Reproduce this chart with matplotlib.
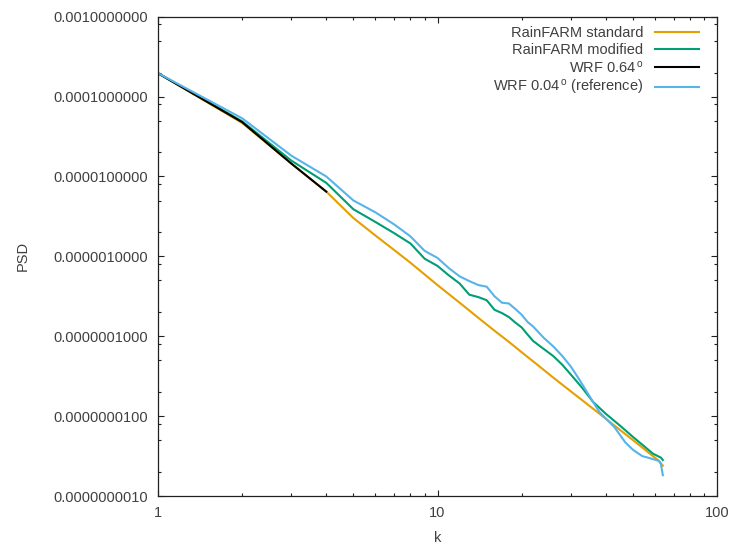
import matplotlib
matplotlib.use("Agg")
import matplotlib.pyplot as plt
from matplotlib.ticker import FixedLocator, FuncFormatter, NullFormatter

plt.rcParams['font.family'] = ['Liberation Sans', 'DejaVu Sans']
plt.rcParams['mathtext.fontset'] = 'custom'
plt.rcParams['mathtext.rm'] = 'Liberation Sans'
plt.rcParams['mathtext.it'] = 'Liberation Sans:italic'

# ---- data ----
k_std = [1, 2, 3, 4, 5, 6, 7, 8, 10, 12, 14, 16, 18, 20, 23, 26, 30, 34, 38, 43, 48, 53, 58, 62, 64]
psd_std = [1.96e-4, 4.68e-5, 1.45e-5, 6.46e-6, 3.02e-6, 1.82e-6, 1.20e-6, 8.32e-7, 4.37e-7,
           2.63e-7, 1.70e-7, 1.17e-7, 8.51e-8, 6.31e-8, 4.27e-8, 3.02e-8, 2.04e-8, 1.45e-8,
           1.07e-8, 7.59e-9, 5.62e-9, 4.27e-9, 3.31e-9, 2.75e-9, 2.40e-9]

k_mod = [1, 2, 3, 4, 5, 6, 7, 8, 9, 10, 11, 12, 13, 14, 15, 16, 17, 18, 19, 20, 21, 22, 24, 26,
         28, 30, 33, 36, 40, 45, 50, 55, 59, 63, 64]
psd_mod = [1.96e-4, 4.90e-5, 1.58e-5, 8.32e-6, 3.89e-6, 2.69e-6, 1.95e-6, 1.45e-6, 9.33e-7,
           7.59e-7, 5.75e-7, 4.57e-7, 3.31e-7, 3.09e-7, 2.82e-7, 2.14e-7, 1.95e-7, 1.74e-7,
           1.48e-7, 1.29e-7, 1.05e-7, 8.71e-8, 6.92e-8, 5.62e-8, 4.37e-8, 3.31e-8, 2.24e-8,
           1.51e-8, 1.07e-8, 7.59e-9, 5.50e-9, 4.17e-9, 3.39e-9, 3.02e-9, 2.82e-9]

k_wrf064 = [1, 2, 3, 4]
psd_wrf064 = [1.96e-4, 4.79e-5, 1.45e-5, 6.46e-6]

k_wrf004 = [1, 2, 3, 4, 5, 6, 7, 8, 9, 10, 11, 12, 13, 14, 15, 16, 17, 18, 19, 20, 21, 22, 24,
            26, 28, 30, 32, 34, 36, 38, 40, 43, 47, 50, 54, 58, 62, 63, 64]
psd_wrf004 = [1.96e-4, 5.35e-5, 1.82e-5, 1.00e-5, 5.01e-6, 3.55e-6, 2.51e-6, 1.78e-6, 1.17e-6,
              9.55e-7, 7.08e-7, 5.62e-7, 4.90e-7, 4.37e-7, 4.17e-7, 3.16e-7, 2.63e-7, 2.57e-7,
              2.19e-7, 1.86e-7, 1.51e-7, 1.32e-7, 9.55e-8, 7.41e-8, 5.62e-8, 4.17e-8, 2.95e-8,
              2.09e-8, 1.51e-8, 1.12e-8, 9.33e-9, 7.24e-9, 4.68e-9, 3.80e-9, 3.16e-9, 2.95e-9,
              2.75e-9, 2.51e-9, 1.82e-9]

labels = ['RainFARM standard', 'RainFARM modified',
          r'WRF 0.64$^{\,\mathrm{o}}$', r'WRF 0.04$^{\,\mathrm{o}}$ (reference)']
colors = ['#e69f00', '#009e73', '#000000', '#56b4e9']

x_major = [1, 10, 100]
y_major = [1e-9, 1e-8, 1e-7, 1e-6, 1e-5, 1e-4, 1e-3]

FS = 10.5

# ---- figure ----
fig = plt.figure(figsize=(7.30, 5.44), dpi=100)
ax = fig.add_axes([158 / 730, 1 - 496 / 544, (717 - 158) / 730, (496 - 16.7) / 544])

series = [(k_std, psd_std), (k_mod, psd_mod), (k_wrf064, psd_wrf064), (k_wrf004, psd_wrf004)]
for (kk, pp), lab, col in zip(series, labels, colors):
    ax.plot(kk, pp, color=col, lw=1.5, label=lab, solid_joinstyle='miter')

ax.set_xscale('log')
ax.set_yscale('log')
ax.set_xlim(1, 100)
ax.set_ylim(1e-9, 1e-3)

txtc = '#404040'
ax.xaxis.set_major_locator(FixedLocator(x_major))
ax.xaxis.set_major_formatter(FuncFormatter(lambda v, p: '%g' % v))
ax.xaxis.set_minor_locator(FixedLocator([m * 10 ** e for e in range(0, 2) for m in range(2, 10)]))
ax.xaxis.set_minor_formatter(NullFormatter())
ax.yaxis.set_major_locator(FixedLocator(y_major))
ax.yaxis.set_major_formatter(FuncFormatter(lambda v, p: '%.10f' % v))
ax.yaxis.set_minor_locator(FixedLocator([m * 10.0 ** e for e in range(-9, -3) for m in (2, 5, 8)]))
ax.yaxis.set_minor_formatter(NullFormatter())

ax.tick_params(which='both', direction='in', top=True, right=True, colors='#202020',
               labelcolor=txtc, labelsize=FS, width=0.8)
ax.tick_params(which='major', length=4.0, pad=7)
ax.tick_params(which='minor', length=2.2)
for s in ax.spines.values():
    s.set_color('#202020')
    s.set_linewidth(0.9)

ax.set_xlabel('k', fontsize=FS, color=txtc, labelpad=8)
ax.set_ylabel('PSD', fontsize=FS, color=txtc, labelpad=17)

leg = ax.legend(loc='upper right', bbox_to_anchor=(1 - 18 / 559, 1 - 9 / 479.3), frameon=False,
                markerfirst=False, fontsize=FS, handlelength=3.0, handletextpad=0.8,
                labelspacing=0.2, borderaxespad=0.0, borderpad=0.0)
for t in leg.get_texts():
    t.set_color(txtc)

fig.savefig('out.png', dpi=100)
